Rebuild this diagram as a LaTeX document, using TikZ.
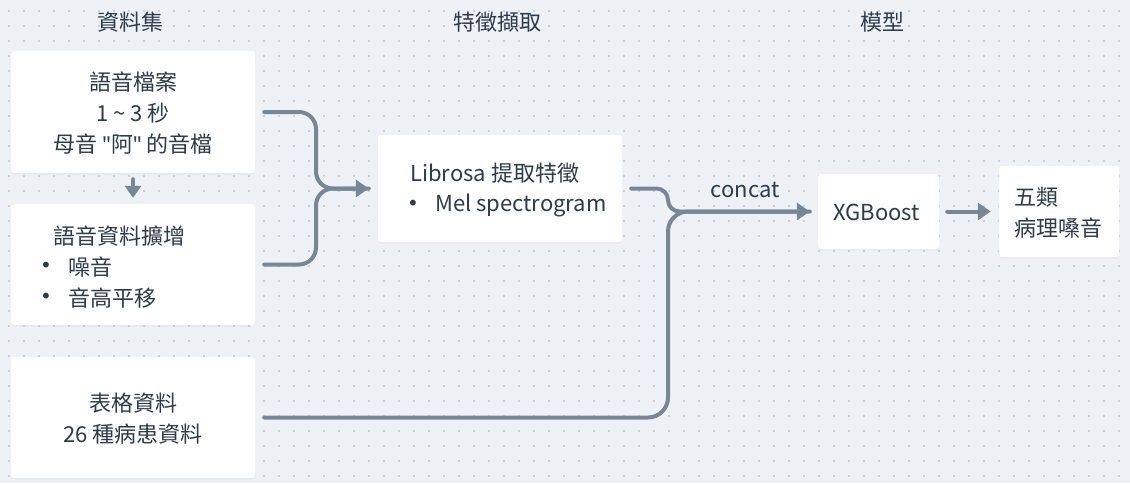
\documentclass[tikz,border=0pt]{standalone}
\usepackage{fontspec}
\setmainfont{Noto Sans CJK TC}
\newfontfamily\bulletfont{DejaVu Sans}
\newfontfamily\latinfont{Noto Sans}
\newcommand{\sq}{{\latinfont\char34}}
\usetikzlibrary{arrows.meta,calc,shadows}
\definecolor{bg}{HTML}{EEF2F6}
\definecolor{dotc}{HTML}{C9D1DC}
\definecolor{conn}{HTML}{788795}
\definecolor{txt}{HTML}{2D3B4A}
\begin{document}
\begin{tikzpicture}[x=1pt,y=-1pt,
  box/.style={fill=white, draw=none, rounded corners=3pt, inner sep=0pt,
    drop shadow={opacity=0.07, shadow xshift=0pt, shadow yshift=-1.5pt}},
  lbl/.style={text=txt, font=\fontsize{22}{31}\selectfont, inner sep=0pt},
  dotlbl/.style={text=txt, font=\bulletfont\fontsize{20}{31}\selectfont, inner sep=0pt},
  link/.style={draw=conn, line width=4pt, line cap=round},
  tip/.style={-{Triangle[length=13pt,width=17pt]}},
  smalltip/.style={-{Triangle[length=12pt,width=16pt]}}]
\fill[bg] (0,0) rectangle (1130,483);
\useasboundingbox (0,0) rectangle (1130,483);
\foreach \i in {0,...,74}{
  \foreach \j in {0,...,31}{
    \fill[dotc] ({9+15*\i-0.8},{11+15*\j-0.8}) rectangle ++(1.6,1.6);
  }
}
% titles
\node[lbl] (t1) at (130.5,22) {資料集};
\node[lbl] (t2) at (497,22) {特徵擷取};
\node[lbl] (t3) at (882,22) {模型};
% boxes
\node[box, minimum width=244, minimum height=122] (b1) at (133,112) {};
\node[box, minimum width=244, minimum height=121] (b2) at (133,264.5) {};
\node[box, minimum width=244, minimum height=121] (b3) at (133,417.5) {};
\node[box, minimum width=244, minimum height=107] (lib) at (500,188.5) {};
\node[box, minimum width=121, minimum height=75] (xgb) at (878.5,211.5) {};
\node[box, minimum width=120, minimum height=91] (out) at (1059,211.5) {};
% box texts
\node[lbl, align=center] (b1t) at (133,113) {語音檔案\\1 \textasciitilde{} 3 秒\\母音 \sq 阿\sq{} 的音檔};
\node[lbl, anchor=west] (b2t) at (53,236) {語音資料擴增};
\node[dotlbl] (b2d1) at (46,267) {•};
\node[lbl, anchor=west] (b2i1) at (68,267) {噪音};
\node[dotlbl] (b2d2) at (46,298) {•};
\node[lbl, anchor=west] (b2i2) at (68,298) {音高平移};
\node[lbl, align=center] (b3t) at (133,418.5) {表格資料\\26 種病患資料};
\node[lbl, anchor=west] (libt) at (410,173) {Librosa 提取特徵};
\node[dotlbl] (libd) at (413,205) {•};
\node[lbl, anchor=west] (libi) at (435,205) {Mel spectrogram};
\node[lbl, anchor=west] (xgbt) at (833,212) {XGBoost};
\node[lbl, anchor=west] (outt1) at (1014,197) {五類};
\node[lbl, anchor=west] (outt2) at (1014,228) {病理嗓音};
% junctions
\coordinate (jl) at (316,188.5);
\coordinate (jr) at (668,211.5);
% connectors
\draw[link, smalltip] ($(b1.south)+(0,6)$) -- ($(b2.north)+(0,-6)$);
\draw[link, rounded corners=17pt] ($(b2.east)+(9,0)$) -| (jl) -- ($(lib.west)+(-9,0)$);
\draw[link, tip, rounded corners=17pt] ($(b1.east)+(9,0)$) -| (jl) -- ($(lib.west)+(-9,0)$);
\draw[link, rounded corners=20pt] ($(b3.east)+(9,0)$) -| (jr) [rounded corners=13pt] -- ($(xgb.west)+(-8,0)$);
\draw[link, tip, rounded corners=11.5pt] ($(lib.east)+(9,0)$) -| (jr) -- ($(xgb.west)+(-8,0)$);
\node[lbl] (cc) at (745,190) {concat};
\draw[link, tip] ($(xgb.east)+(8,0)$) -- ($(out.west)+(-8,0)$);
\end{tikzpicture}
\end{document}
